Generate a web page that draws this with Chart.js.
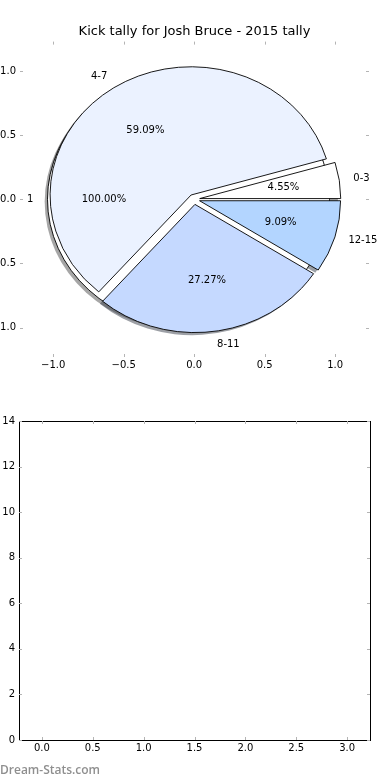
<!DOCTYPE html>
<html>
<head>
<meta charset="utf-8">
<script src="https://cdn.jsdelivr.net/npm/chart.js@4.4.0/dist/chart.umd.min.js"></script>
<style>
  body { margin: 0; background: #fff; width: 390px; height: 780px; position: relative; overflow: hidden; }
  canvas { position: absolute; left: 0; display: block; }
  #pieCanvas { top: 0; }
  #barCanvas { top: 390px; }
  .brand { position: absolute; left: 0; top: 761px; font: 600 12px "Open Sans", sans-serif; color: #8f8f8f; }
</style>
</head>
<body>
<canvas id="pieCanvas" width="390" height="390"></canvas>
<canvas id="barCanvas" width="390" height="390"></canvas>
<div class="brand">Dream-Stats.com</div>
<script>
// Kick tally data
const kickLabels = ["0-3", "4-7", "8-11", "12-15"];
const kickCounts = [1, 13, 6, 2];
const totalLabels = ["1"];
const totalCounts = [1];

// Tick labels
const pieTicks = [-1, -0.5, 0, 0.5, 1];
const barXTicks = [0, 0.5, 1, 1.5, 2, 2.5, 3];
const barYTicks = [0, 2, 4, 6, 8, 10, 12, 14];

const kickColors = ["#ffffff", "#ebf2ff", "#c5d9ff", "#b3d5ff"];
const totalColors = ["#ffffff"];
const FONT = "DejaVu Sans";

function fmt(v) {
  return (v < 0 ? "\u2212" : "") + Math.abs(v).toFixed(1);
}

function darker(hex) {
  const n = parseInt(hex.slice(1), 16);
  const r = Math.round(((n >> 16) & 255) * 0.3);
  const g = Math.round(((n >> 8) & 255) * 0.3);
  const b = Math.round((n & 255) * 0.3);
  return `rgba(${r},${g},${b},0.5)`;
}

// inward grey tick marks on all four sides
function drawInnerTicks(chart) {
  const { ctx, chartArea: a, scales } = chart;
  const len = 3;
  ctx.save();
  ctx.strokeStyle = "#b4b4b4";
  ctx.lineWidth = 1;
  ctx.beginPath();
  scales.x.ticks.forEach((t) => {
    const px = Math.round(scales.x.getPixelForValue(t.value)) + 0.5;
    ctx.moveTo(px, a.bottom); ctx.lineTo(px, a.bottom - len);
    ctx.moveTo(px, a.top); ctx.lineTo(px, a.top + len);
  });
  scales.y.ticks.forEach((t) => {
    const py = Math.round(scales.y.getPixelForValue(t.value)) + 0.5;
    ctx.moveTo(a.left, py); ctx.lineTo(a.left + len, py);
    ctx.moveTo(a.right, py); ctx.lineTo(a.right - len, py);
  });
  ctx.stroke();
  ctx.restore();
}

// build wedges from counts, matplotlib style (start at 0 deg, counter-clockwise)
function wedges(counts, labels, colors, explode) {
  const total = counts.reduce((s, v) => s + v, 0);
  let t = 0;
  return counts.map((v, i) => {
    const sweep = (v / total) * Math.PI * 2;
    const w = { t1: t, t2: t + sweep, frac: v / total, label: labels[i], color: colors[i], explode: explode };
    w.mid = (w.t1 + w.t2) / 2;
    w.full = v === total;
    t += sweep;
    return w;
  });
}

const piePlugin = {
  id: "piePlugin",
  afterDatasetsDraw(chart) {
    const { ctx, scales: { x, y } } = chart;
    const cx0 = x.getPixelForValue(0);
    const cy0 = y.getPixelForValue(0);
    const rx = x.getPixelForValue(1) - cx0;
    const ry = cy0 - y.getPixelForValue(1);
    const sdx = x.getPixelForValue(-0.02) - cx0;
    const sdy = y.getPixelForValue(-0.02) - cy0;

    const all = wedges(totalCounts, totalLabels, totalColors, 0.04)
      .concat(wedges(kickCounts, kickLabels, kickColors, 0.04));

    function path(w, ox, oy) {
      const cx = x.getPixelForValue(w.explode * Math.cos(w.mid)) + ox;
      const cy = y.getPixelForValue(w.explode * Math.sin(w.mid)) + oy;
      ctx.beginPath();
      if (w.full) {
        ctx.ellipse(cx, cy, rx, ry, 0, 0, Math.PI * 2);
      } else {
        ctx.moveTo(cx, cy);
        ctx.ellipse(cx, cy, rx, ry, 0, -w.t1, -w.t2, true);
      }
      ctx.closePath();
    }

    ctx.save();
    // shadows
    all.forEach((w) => {
      path(w, sdx, sdy);
      ctx.fillStyle = darker(w.color);
      ctx.fill();
    });
    // wedges
    all.forEach((w) => {
      path(w, 0, 0);
      ctx.fillStyle = w.color;
      ctx.fill();
      ctx.strokeStyle = "#000";
      ctx.lineWidth = 0.9;
      ctx.stroke();
    });
    // labels
    ctx.fillStyle = "#000";
    ctx.font = `10px "${FONT}"`;
    ctx.textBaseline = "middle";
    all.forEach((w) => {
      const ex = w.explode * Math.cos(w.mid);
      const ey = w.explode * Math.sin(w.mid);
      const lx = ex + 1.1 * Math.cos(w.mid);
      const ly = ey + 1.1 * Math.sin(w.mid);
      ctx.textAlign = lx > 0 ? "left" : "right";
      ctx.fillText(w.label, x.getPixelForValue(lx), y.getPixelForValue(ly));
      ctx.textAlign = "center";
      ctx.fillText((w.frac * 100).toFixed(2) + "%",
        x.getPixelForValue(ex + 0.6 * Math.cos(w.mid)),
        y.getPixelForValue(ey + 0.6 * Math.sin(w.mid)));
    });
    ctx.restore();
    drawInnerTicks(chart);
  },
};

const framePlugin = {
  id: "framePlugin",
  afterDatasetsDraw(chart) {
    const { ctx, chartArea: a } = chart;
    ctx.save();
    ctx.strokeStyle = "#000";
    ctx.lineWidth = 1;
    ctx.strokeRect(Math.round(a.left) + 0.5, Math.round(a.top) + 0.5,
      Math.round(a.right - a.left), Math.round(a.bottom - a.top));
    ctx.restore();
    drawInnerTicks(chart);
  },
};

const tickFont = { family: FONT, size: 10 };

function axis(min, max, ticks, cb, fit, pad) {
  return {
    type: "linear",
    min: min,
    max: max,
    afterBuildTicks: (s) => { s.ticks = ticks.map((v) => ({ value: v })); },
    afterFit: fit,
    grid: { display: false, drawTicks: false },
    border: { display: false },
    ticks: { font: tickFont, color: "#000", padding: pad, autoSkip: false, maxRotation: 0, callback: cb },
  };
}

// Pie chart on data axes
new Chart(document.getElementById("pieCanvas"), {
  type: "scatter",
  data: { datasets: [] },
  options: {
    responsive: false,
    animation: false,
    devicePixelRatio: 1,
    layout: { padding: { left: 0, right: 1, top: 0, bottom: 13 } },
    plugins: {
      legend: { display: false },
      tooltip: { enabled: false },
      title: {
        display: true,
        text: "Kick tally for Josh Bruce - 2015 tally",
        color: "#000",
        font: { family: FONT, size: 13, weight: "normal" },
        padding: { top: 24, bottom: 2 },
      },
    },
    scales: {
      x: axis(-1.235, 1.24, pieTicks, (v) => fmt(v), (s) => { s.height = 20; }, 2),
      y: axis(-1.23, 1.23, pieTicks, (v) => fmt(v), (s) => { s.width = 20; }, 4),
      // spacer on the right so the title centres over the plot
      y2: {
        type: "linear",
        position: "right",
        afterFit: (s) => { s.width = 20; },
        grid: { display: false, drawTicks: false },
        border: { display: false },
        ticks: { display: false },
      },
    },
  },
  plugins: [piePlugin],
});

// Empty tally axes below
new Chart(document.getElementById("barCanvas"), {
  type: "scatter",
  data: { datasets: [{ data: [] }] },
  options: {
    responsive: false,
    animation: false,
    devicePixelRatio: 1,
    layout: { padding: { left: 0, right: 20, top: 31, bottom: 20 } },
    plugins: { legend: { display: false }, tooltip: { enabled: false } },
    scales: {
      x: axis(-0.225, 3.225, barXTicks, (v) => v.toFixed(1), (s) => { s.height = 20; }, 2),
      y: axis(0, 14, barYTicks, (v) => String(v), (s) => { s.width = 19; }, 4),
    },
  },
  plugins: [framePlugin],
});
</script>
</body>
</html>
